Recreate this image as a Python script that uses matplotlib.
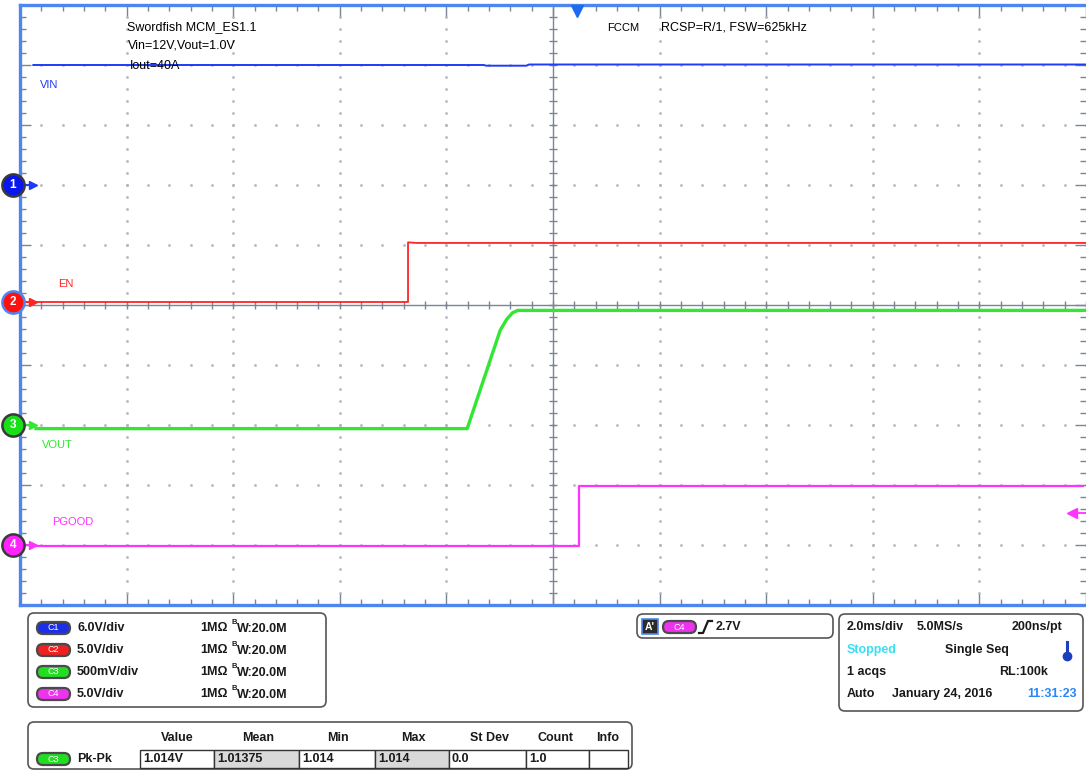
import numpy as np
import matplotlib
matplotlib.use("Agg")
import matplotlib.pyplot as plt
from matplotlib.patches import FancyBboxPatch, Rectangle

plt.rcParams['font.family'] = ['Liberation Sans', 'DejaVu Sans']

# scope settings: 2.0 ms/div, screen centre = 0 ms
ch_names = ["VIN", "EN", "VOUT", "PGOOD"]
ch_colors = ["#1f3cf5", "#ff2424", "#33e633", "#ff33ff"]
ch_scale = [6.0, 5.0, 0.5, 5.0]        # V/div
ch_offset = [2.0, 0.05, -2.0, -4.0]    # ground marker, div
ch_scale_txt = ["6.0V/div", "5.0V/div", "500mV/div", "5.0V/div"]

# traces (time in ms, volts)
vin_t = [-9.75, -1.30, -1.25, -0.50, -0.45, 10.0]
vin_v = [12.0, 12.0, 11.93, 11.93, 12.05, 12.05]
en_t = [-9.7, -2.72, -2.72, -2.55, 10.0]
en_v = [0.0, 0.0, 4.97, 4.92, 4.92]
vout_t = [-9.7, -1.61, -0.99, -0.87, -0.76, -0.66, 10.0]
vout_v = [-0.03, -0.03, 0.79, 0.88, 0.935, 0.955, 0.955]
pgood_t = [-9.7, 0.49, 0.49, 9.95]
pgood_v = [-0.05, -0.05, 4.92, 4.92]

trig_time = 0.45      # ms
trig_level = 2.7      # V on C4

# readouts
meas_head = ["Value", "Mean", "Min", "Max", "St Dev", "Count", "Info"]
meas_vals = ["1.014V", "1.01375", "1.014", "1.014", "0.0", "1.0", ""]

fig = plt.figure(figsize=(10.86, 7.71), dpi=100)
ax = fig.add_axes([20 / 1086, 1 - 605 / 771, 1066 / 1086, 600 / 771])
ax.set_xlim(-10, 10)
ax.set_ylim(-5, 5)

frame = "#4f86ee"
for s in ["left", "top", "bottom"]:
    ax.spines[s].set_color(frame)
    ax.spines[s].set_linewidth(2.4)
ax.spines["right"].set_visible(False)

tickc = "#7a8596"
ax.set_xticks(np.arange(-10, 10.01, 2))
ax.set_xticks(np.arange(-10, 10.01, 0.4), minor=True)
ax.set_yticks(np.arange(-5, 5.01, 1))
ax.set_yticks(np.arange(-5, 5.01, 0.2), minor=True)
ax.tick_params(which="both", direction="in", top=True, right=True,
               labelbottom=False, labelleft=False, color=tickc, width=1)
ax.tick_params(which="major", length=8)
ax.tick_params(which="minor", length=4.5)

# dotted graticule
gc = "#b4b8c0"
for gx in np.arange(-8, 8.01, 2):
    if gx == 0:
        continue
    yy = np.arange(-5, 5.01, 0.2)
    ax.plot(np.full_like(yy, gx), yy, ls="none", marker="s", ms=0.9, color=gc, zorder=1)
for gy in np.arange(-4, 4.01, 1):
    if gy == 0:
        continue
    xx = np.arange(-10, 10.01, 0.4)
    ax.plot(xx, np.full_like(xx, gy), ls="none", marker="s", ms=0.9, color=gc, zorder=1)

# centre crosshair
ax.axhline(0, color=tickc, lw=1, zorder=1)
ax.axvline(0, color=tickc, lw=1, zorder=1)
xx = np.arange(-10, 10.01, 0.4)
ax.plot(xx, np.zeros_like(xx), ls="none", marker="|", ms=6, color=tickc, zorder=1)
yy = np.arange(-5, 5.01, 0.2)
ax.plot(np.zeros_like(yy), yy, ls="none", marker="_", ms=6, color=tickc, zorder=1)

traces = [(vin_t, vin_v, 1.4), (en_t, en_v, 1.3), (vout_t, vout_v, 2.4), (pgood_t, pgood_v, 1.6)]
for i, (t, v, lw) in enumerate(traces):
    y = np.array(v) / ch_scale[i] + ch_offset[i]
    ax.plot(t, y, color=ch_colors[i], lw=lw, zorder=3)

# channel labels
lab_pos = [(-9.62, 3.67), (-9.29, 0.35), (-9.59, -2.33), (-9.40, -3.62)]
for i, (lx, ly) in enumerate(lab_pos):
    ax.text(lx, ly, ch_names[i], color=ch_colors[i], fontsize=8, va="center", ha="left")

# ground markers
ytr = ax.get_yaxis_transform()
mark_fill = ["#0a16ee", "#ff1010", "#18e018", "#ff22ff"]
for i in range(4):
    off = ch_offset[i]
    ax.plot([0.0, 0.012], [off, off], color=ch_colors[i], lw=1.5, transform=ytr, clip_on=False, zorder=6)
    ax.plot([0.012], [off], marker=">", ms=6, color=ch_colors[i], transform=ytr, clip_on=False, zorder=6)
    ec = frame if i == 1 else "#3a3a3a"
    ax.plot([-0.0066], [off], marker="o", ms=16, mfc=mark_fill[i], mec=ec, mew=1.8,
            transform=ytr, clip_on=False, zorder=7)
    ax.text(-0.0066, off, str(i + 1), color="white", fontsize=8.5, fontweight="bold",
            ha="center", va="center", transform=ytr, zorder=8, clip_on=False)

# trigger markers
ax.plot([trig_time], [4.9], marker="v", ms=8, color="#1a6cf0", zorder=6, clip_on=False)
lvl = trig_level / ch_scale[3] + ch_offset[3]
ax.plot([9.74, 10.0], [lvl, lvl], color=ch_colors[3], lw=1.3, zorder=6, clip_on=False)
ax.plot([9.74], [lvl], marker="<", ms=7, color=ch_colors[3], zorder=6, clip_on=False)

# notes on screen
ax.text(-8.0, 4.63, "Swordfish MCM_ES1.1", fontsize=9, va="center")
ax.text(-7.98, 4.32, "Vin=12V,Vout=1.0V", fontsize=9, va="center")
ax.text(-7.94, 3.98, "Iout=40A", fontsize=9, va="center")
ax.text(1.01, 4.62, "FCCM", fontsize=8, va="center")
ax.text(2.03, 4.63, "RCSP=R/1, FSW=625kHz", fontsize=9, va="center")

# ---- readout panels (pixel coords) ----
ov = fig.add_axes([0, 0, 1, 1], zorder=5)
ov.set_xlim(0, 1086)
ov.set_ylim(771, 0)
ov.axis("off")
ov.patch.set_visible(False)


def box(x, y, w, h):
    ov.add_patch(FancyBboxPatch((x, y), w, h, boxstyle="round,pad=0,rounding_size=6",
                                fc="white", ec="#555555", lw=1.2))


def pill(x, y, txt, color, w=33, h=12):
    ov.add_patch(FancyBboxPatch((x, y - h / 2), w, h, boxstyle="round,pad=0,rounding_size=6",
                                fc=color, ec="#4a4a4a", lw=1.6))
    ov.text(x + w / 2, y, txt, color="white", fontsize=6.5, ha="center", va="center")


pill_cols = ["#1c2fe6", "#ee2020", "#22dd22", "#ee33ee"]
bkw = dict(fontsize=9, fontweight="bold", va="center", color="#1a1a1a")

box(28, 613, 298, 94)
for i, ry in enumerate([628, 650, 672, 694]):
    pill(37, ry, f"C{i + 1}", pill_cols[i])
    ov.text(77, ry, ch_scale_txt[i], **bkw)
    ov.text(200, ry, "1MΩ", **bkw)
    ov.text(231, ry - 5, "B", fontsize=5.5, fontweight="bold", va="center", color="#1a1a1a")
    ov.text(237, ry + 1, "W:20.0M", **bkw)

box(637, 614, 196, 24)
ov.add_patch(Rectangle((642, 619), 16, 15, fc="#2b2b2b", ec=frame, lw=1.2))
ov.text(650, 626.5, "A'", color="white", fontsize=7.5, fontweight="bold", ha="center", va="center")
pill(663, 627, "C4", pill_cols[3])
ov.plot([699, 703, 708, 712], [633, 633, 621, 621], color="#1a1a1a", lw=1.6)
ov.text(716, 627, "2.7V", **bkw)

box(839, 614, 244, 97)
ov.text(847, 627, "2.0ms/div", **bkw)
ov.text(917, 627, "5.0MS/s", **bkw)
ov.text(1062, 627, "200ns/pt", ha="right", **bkw)
ov.text(847, 650, "Stopped", fontsize=9, fontweight="bold", va="center", color="#38e0f2")
ov.text(945, 650, "Single Seq", **bkw)
ov.plot([1067, 1067], [642, 655], color="#1b3fbf", lw=2.2)
ov.plot([1067], [656], marker="o", ms=6, color="#1b3fbf")
ov.text(847, 672, "1 acqs", **bkw)
ov.text(1048, 672, "RL:100k", ha="right", **bkw)
ov.text(847, 694, "Auto", **bkw)
ov.text(892, 694, "January 24, 2016", **bkw)
ov.text(1077, 694, "11:31:23", ha="right", fontsize=9, fontweight="bold", va="center", color="#2a86f5")

box(28, 722, 604, 47)
head_x = [177, 258, 338, 413, 489, 556, 608]
for hx, h in zip(head_x, meas_head):
    ov.text(hx, 738, h, ha="center", **bkw)
pill(37, 759, "C3", pill_cols[2])
ov.text(77, 759, "Pk-Pk", **bkw)
edges = [140, 214, 299, 375, 449, 526, 589, 628]
for j, val in enumerate(meas_vals):
    fc = "#d9d9d9" if j in (1, 3) else "white"
    ov.add_patch(Rectangle((edges[j], 750), edges[j + 1] - edges[j], 18, fc=fc, ec="#333333", lw=1))
    ov.text(edges[j] + 3, 759.5, val, **bkw)

fig.savefig("out.png", dpi=100)
